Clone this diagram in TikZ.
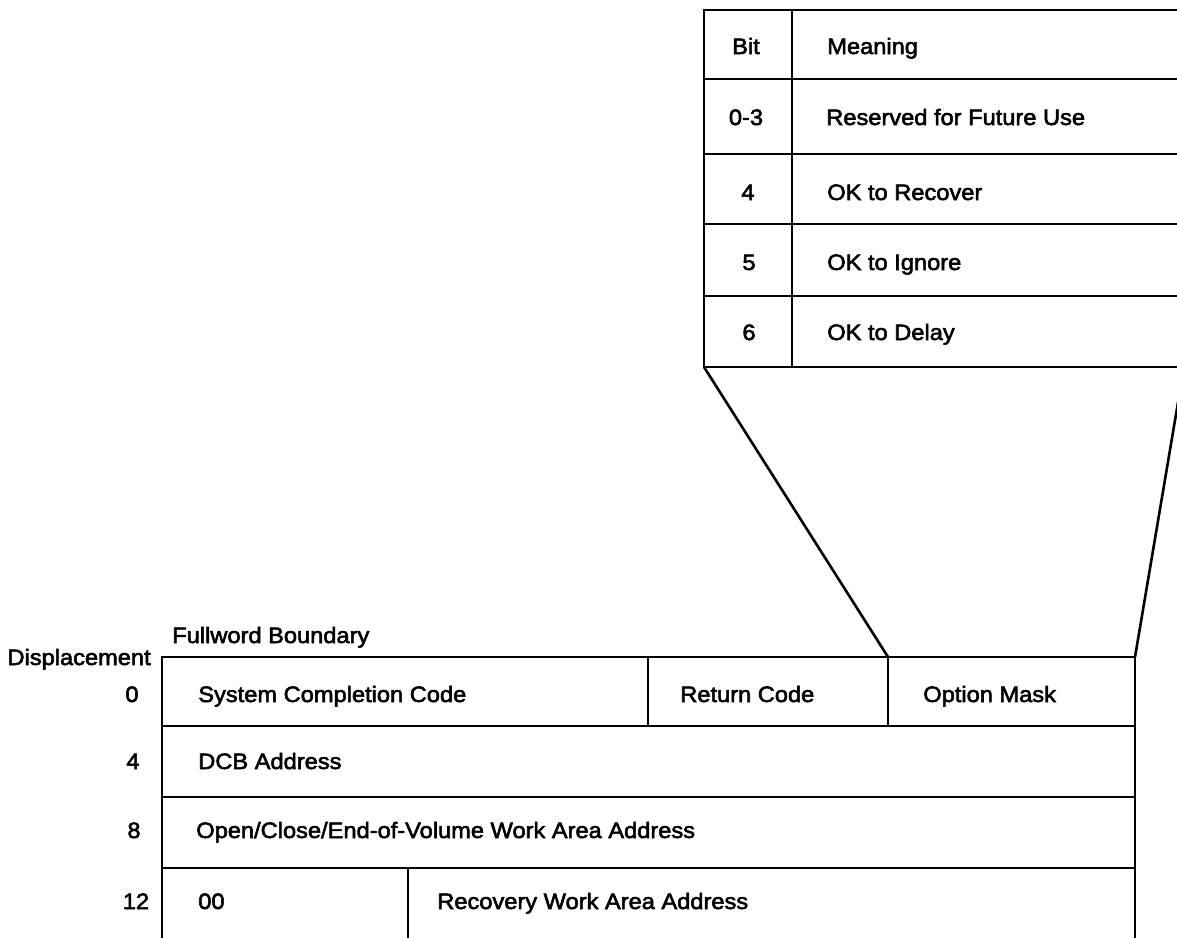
\documentclass[tikz,border=0pt]{standalone}
\usepackage{fontspec}
\setmainfont{Liberation Sans}[FakeStretch=1.06,FakeBold=2.5]
\begin{document}
\begin{tikzpicture}[x=1pt,y=-1pt,line width=2.6pt,line join=miter,
  lbl/.style={inner sep=0pt,font=\fontsize{22.3}{26}\selectfont,anchor=base west},
  num/.style={inner sep=0pt,font=\fontsize{22.3}{26}\selectfont,anchor=base}]
\useasboundingbox (0,0) rectangle (1177,937);
\clip (0,0) rectangle (1177,937);
% ---------- top table (bit meanings) ----------
\coordinate (tl) at (704,10);
\coordinate (bl) at (704,367);
\draw (1200,10) -- (tl) -- (bl) -- (1200,367);
\draw (792,10) -- (792,367);
\foreach \y in {79,154,224,296} \draw (704,\y) -- (1200,\y);
\node[num] (hbit) at (746,54) {Bit};
\node[lbl] (hmean) at (826,54) {Meaning};
\node[num] (b03) at (746,125) {0-3};
\node[lbl] (m03) at (825,125) {Reserved for Future Use};
\node[num] (b4) at (748,200) {4};
\node[lbl] (m4) at (826,200) {OK to Recover};
\node[num] (b5) at (749,270) {5};
\node[lbl] (m5) at (826,270) {OK to Ignore};
\node[num] (b6) at (749,340) {6};
\node[lbl] (m6) at (826,340) {OK to Delay};
% ---------- bottom table ----------
\coordinate (ol) at (888,657);
\coordinate (or) at (1135,657);
\draw (162,945) -- (162,657) -- (1135,657) -- (1135,945);
\foreach \y in {726,797,868} \draw (162,\y) -- (1135,\y);
\draw (648,657) -- (648,726);
\draw (ol) -- (888,726);
\draw (408,868) -- (408,945);
% zoom lines
\draw (bl) -- (ol);
\draw (or) -- (1184,367);
\node[lbl,anchor=base east] (disp) at (152,665) {Displacement};
\node[lbl] (fwb) at (171,643) {Fullword Boundary};
\node[num] (d0) at (132,702) {0};
\node[num] (d4) at (133,769) {4};
\node[num] (d8) at (134,838) {8};
\node[num] (d12) at (136,909) {12};
\node[lbl] (scc) at (197,702) {System Completion Code};
\node[lbl] (rc) at (679,702) {Return Code};
\node[lbl] (om) at (922,702) {Option Mask};
\node[lbl] (dcb) at (197,769) {DCB Address};
\node[lbl] (oce) at (195,838) {Open/Close/End-of-Volume Work Area Address};
\node[lbl] (zz) at (197,909) {00};
\node[lbl] (rwa) at (436,909) {Recovery Work Area Address};
\end{tikzpicture}
\end{document}
